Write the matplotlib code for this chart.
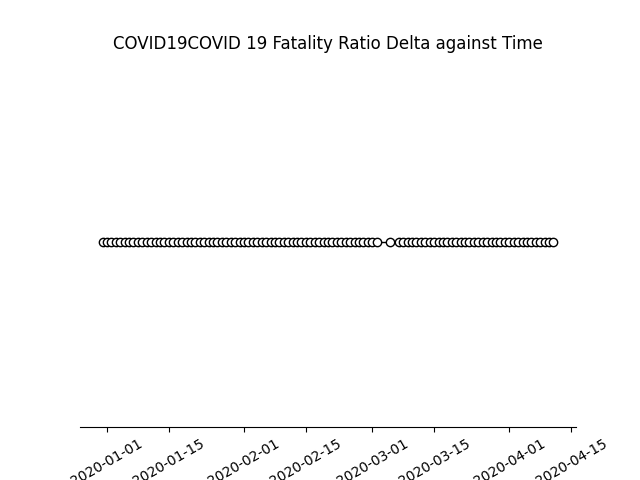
"""COVID 19 fatality ratio delta plotted against time (daily reports)."""
import matplotlib
matplotlib.use("Agg")
import matplotlib.pyplot as plt
import matplotlib.dates as mdates
import pandas as pd

# report days: 2019-12-31 .. 2020-04-11, with a few days lacking a report
start_date = "2019-12-31"
end_date = "2020-04-11"
missing_dates = ["2020-03-03", "2020-03-04", "2020-03-06"]
dates = pd.date_range(start_date, end_date, freq="D")
dates = dates[~dates.isin(pd.to_datetime(missing_dates))]

# delta of the fatality ratio between consecutive reports (flat for every day)
fatality_ratio_delta = [
    0.0, 0.0, 0.0, 0.0, 0.0, 0.0, 0.0, 0.0, 0.0, 0.0,
    0.0, 0.0, 0.0, 0.0, 0.0, 0.0, 0.0, 0.0, 0.0, 0.0,
    0.0, 0.0, 0.0, 0.0, 0.0, 0.0, 0.0, 0.0, 0.0, 0.0,
    0.0, 0.0, 0.0, 0.0, 0.0, 0.0, 0.0, 0.0, 0.0, 0.0,
    0.0, 0.0, 0.0, 0.0, 0.0, 0.0, 0.0, 0.0, 0.0, 0.0,
    0.0, 0.0, 0.0, 0.0, 0.0, 0.0, 0.0, 0.0, 0.0, 0.0,
    0.0, 0.0, 0.0, 0.0, 0.0, 0.0, 0.0, 0.0, 0.0, 0.0,
    0.0, 0.0, 0.0, 0.0, 0.0, 0.0, 0.0, 0.0, 0.0, 0.0,
    0.0, 0.0, 0.0, 0.0, 0.0, 0.0, 0.0, 0.0, 0.0, 0.0,
    0.0, 0.0, 0.0, 0.0, 0.0, 0.0, 0.0, 0.0, 0.0, 0.0,
]

title = "COVID19COVID 19 Fatality Ratio Delta against Time"

fig, ax = plt.subplots(figsize=(6.4, 4.8), dpi=100)
ax.plot(dates, fatality_ratio_delta, "o-", color="black",
        markerfacecolor="white", markeredgecolor="black", lw=1)

ax.xaxis.set_major_locator(mdates.DayLocator(bymonthday=[1, 15]))
ax.xaxis.set_major_formatter(mdates.DateFormatter("%Y-%m-%d"))
plt.setp(ax.get_xticklabels(), rotation=30)

for side in ("left", "right", "top"):
    ax.spines[side].set_visible(False)
ax.set_yticks([])
ax.set_title(title)

fig.savefig("out.png", dpi=100)
